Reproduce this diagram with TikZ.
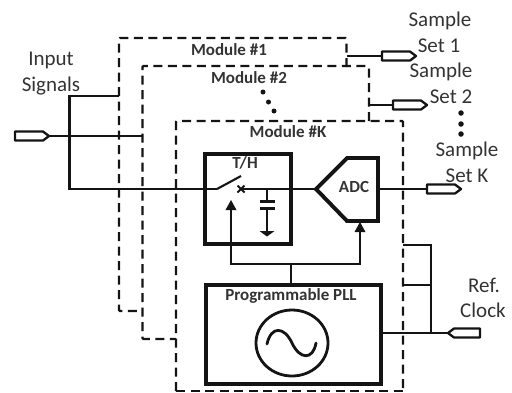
\documentclass[tikz,border=0pt]{standalone}
\usepackage{fontspec}
\setmainfont{Carlito}
\definecolor{ink}{gray}{0.08}
\definecolor{txt}{gray}{0.2}
\tikzset{
  x=1pt,y=-1pt,
  wire/.style={draw=ink,line width=2.1pt},
  heavy/.style={draw=ink,line width=3.9pt,line join=miter},
  modbox/.style={draw=ink,line width=2.3pt,dash pattern=on 9pt off 5.5pt},
  lbl/.style={text=txt,font=\fontsize{21}{21}\selectfont,inner sep=0pt},
  mlbl/.style={text=txt,font=\bfseries\fontsize{17}{17}\selectfont,inner sep=0pt},
  blockbox/.style={draw=ink,line width=3.9pt,rectangle,inner sep=0pt},
  pinshape/.style={draw=ink,line width=2.3pt,fill=white,line join=round},
  dotmark/.style={circle,fill=ink,inner sep=0pt,minimum size=5.5pt},
  pics/pinr/.style={code={\draw[pinshape] (0,-4.5) -- (28,-4.5) -- (34,0) -- (28,4.5) -- (0,4.5) -- cycle;}},
  pics/pinl/.style={code={\draw[pinshape] (0,-4.5) -- (-26,-4.5) -- (-32,0) -- (-26,4.5) -- (0,4.5) -- cycle;}},
}
\begin{document}
\begin{tikzpicture}
\useasboundingbox (0,0) rectangle (512,392);
% module outlines
\coordinate (m1a) at (346.5,67);
\coordinate (m2a) at (369,121);
\draw[modbox,rounded corners=1pt] (m1a) -- (346.5,38) -- (119,38) -- (119,311) -- (142.5,311);
\draw[modbox,rounded corners=1pt] (m2a) -- (369,66) -- (142.5,66) -- (142.5,339) -- (176,339);
\draw[modbox,rounded corners=1pt] (176,391) -- (176,121) -- (403,121) -- (403,391);
\draw[modbox] (176,391) -- (403,391);
% blocks
\node[blockbox,minimum width=86pt,minimum height=90pt,anchor=north west] (th) at (203,152) {};
\node[blockbox,minimum width=175pt,minimum height=99pt,anchor=north west] (pll) at (204,283) {};
\draw[heavy] (316,189) -- (347,158) -- (378,158) -- (378,221) -- (347,221) -- cycle;
\coordinate (adcin) at (316,189);
\coordinate (adcout) at (378,189);
\coordinate (adcclk) at (360,222);
% pins
\pic at (15,136) {pinr};
\coordinate (pinA) at (48,136);
\coordinate (inA) at (142.5,136);
\coordinate (in1) at (119,96);
\coordinate (swa) at (217,189);
\coordinate (swb) at (241,176);
\coordinate (swc) at (241,189);
% input wiring
\draw[wire] (pinA) -- (inA);
\draw[wire] (in1) -- (69.5,96) -- (69.5,189) -- (swa);
\draw[wire] (swa) -- (swb);
\draw[wire] (swc) -- (adcin);
\draw[wire] (237.5,185.5) -- (244.5,192.5) (244.5,185.5) -- (237.5,192.5);
% capacitor
\draw[wire] (267,189) -- (267,201.5) (267,208.5) -- (267,232);
\draw[wire,line width=2.4pt] (259.5,201.5) -- (274.5,201.5) (259.5,208.5) -- (274.5,208.5);
\fill[ink] (259.5,231) -- (274.5,231) -- (267,236.5) -- cycle;
% control
\coordinate (jc) at (291,264);
\draw[wire] (pll.north -| jc) -- (jc);
\draw[wire] (231,210) -- (231,264) -- (360,264) -- (360,232);
\fill[ink] (231,200) -- (225.5,210) -- (236.5,210) -- cycle;
\fill[ink] (adcclk) -- (354.5,232) -- (365.5,232) -- cycle;
% outputs
\draw[wire] (346.5,56) -- (382,56);
\pic at (382,56) {pinr};
\draw[wire] (369,105) -- (393,105);
\pic at (393,105) {pinr};
\draw[wire] (adcout) -- (427,189);
\pic at (427,189) {pinr};
% clock
\draw[wire] (pll.east |- 0,333) -- (448,333);
\pic at (480,333) {pinl};
\draw[wire] (403,245) -- (431,245) -- (431,333);
\draw[wire] (403,285) -- (431,285);
% oscillator
\draw[draw=ink,line width=2.8pt] (292,343) ellipse [x radius=36,y radius=33];
\draw[draw=ink,line width=2.8pt,line cap=round] (267,344) .. controls (271,326) and (284,326) .. (292,343) .. controls (300,360) and (313,360) .. (316,343);
% dots
\node[dotmark] (d1) at (461,113) {};
\node[dotmark] (d2) at (461,124) {};
\node[dotmark] (d3) at (461,134) {};
\node[dotmark,minimum size=5pt] (d4) at (263,92) {};
\node[dotmark,minimum size=5pt] (d5) at (268.5,102) {};
\node[dotmark,minimum size=5pt] (d6) at (274,111) {};
% labels
\node[lbl] (t1) at (51,60) {Input};
\node[lbl] (t2) at (51,86) {Signals};
\node[lbl] (t3) at (440,21) {Sample};
\node[lbl] (t4) at (439,46) {Set 1};
\node[lbl] (t5) at (441,72) {Sample};
\node[lbl] (t6) at (451,97) {Set 2};
\node[lbl] (t7) at (467,151) {Sample};
\node[lbl] (t8) at (467,176) {Set K};
\node[lbl] (t9) at (484,285) {Ref.};
\node[lbl] (t10) at (483,310) {Clock};
\node[mlbl] (m1) at (229,50) {Module \#1};
\node[mlbl] (m2) at (249,78) {Module \#2};
\node[mlbl] (mk) at (288,132) {Module \#K};
\node[mlbl] (tht) at (245,163) {T/H};
\node[mlbl] (adct) at (354,187) {ADC};
\node[mlbl] (pllt) at (291,296) {Programmable PLL};
\end{tikzpicture}
\end{document}
